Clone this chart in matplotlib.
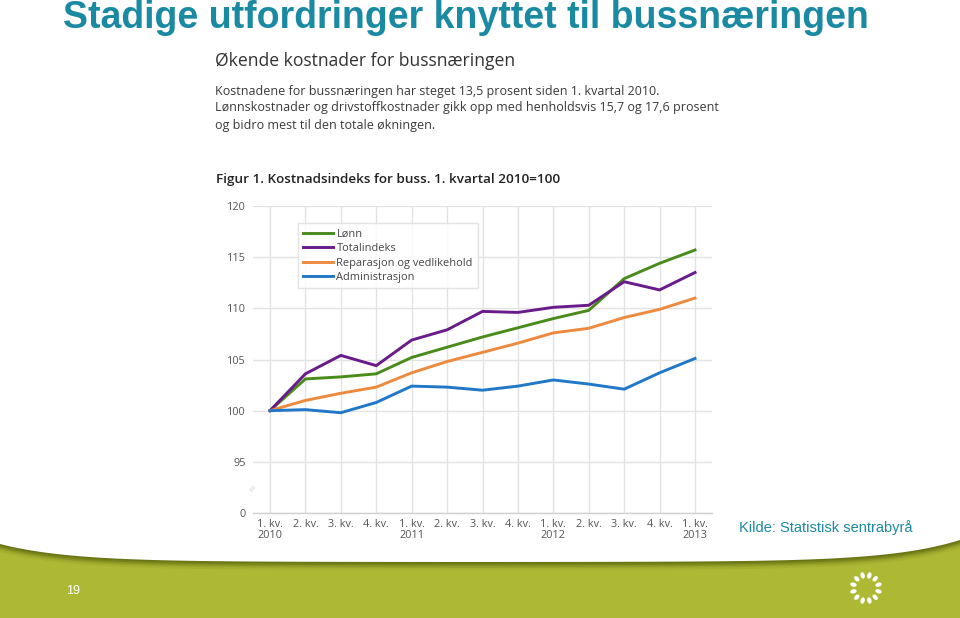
import matplotlib
matplotlib.use("Agg")
import matplotlib.pyplot as plt
from matplotlib.patches import Polygon, Ellipse, Rectangle
import numpy as np

# ---------------- data ----------------
quarters = ["1. kv.\n2010", "2. kv.", "3. kv.", "4. kv.",
            "1. kv.\n2011", "2. kv.", "3. kv.", "4. kv.",
            "1. kv.\n2012", "2. kv.", "3. kv.", "4. kv.",
            "1. kv.\n2013"]
lonn = [100, 103.1, 103.3, 103.6, 105.2, 106.2, 107.2, 108.1, 109.0, 109.8, 112.9, 114.4, 115.7]
total = [100, 103.6, 105.4, 104.4, 106.9, 107.9, 109.7, 109.6, 110.1, 110.3, 112.6, 111.8, 113.5]
reparasjon = [100, 101.0, 101.7, 102.3, 103.7, 104.8, 105.7, 106.6, 107.6, 108.05, 109.1, 109.9, 111.0]
administrasjon = [100, 100.1, 99.8, 100.8, 102.4, 102.3, 102.0, 102.4, 103.0, 102.6, 102.1, 103.7, 105.1]
series_names = ["Lønn", "Totalindeks", "Reparasjon og vedlikehold", "Administrasjon"]
series_colors = ["#4a8c1c", "#6a1b8a", "#ee8a3e", "#1f78c8"]
ytick_values = [90, 95, 100, 105, 110, 115, 120]
ytick_labels = ["0", "95", "100", "105", "110", "115", "120"]

W, H = 960, 618
fig = plt.figure(figsize=(W / 100, H / 100), dpi=100)
fig.patch.set_facecolor("white")

FONT = ["Open Sans", "DejaVu Sans"]
TITLE_FONT = ["Liberation Sans", "DejaVu Sans"]

# ---------------- decoration layer (pixel coords) ----------------
deco = fig.add_axes([0, 0, 1, 1])
deco.set_xlim(0, W)
deco.set_ylim(H, 0)
deco.axis("off")

green = "#adb834"
deco.add_patch(Rectangle((0, 535), W, H - 535, facecolor=green, edgecolor="none", zorder=1))
xs = np.linspace(0, W, 200)
def edge(x):
    left = 544 + 18 * (1 - np.exp(-x / 70))
    right = 540 + 22 * (1 - np.exp(-(W - x) / 70))
    return np.minimum(left, right)
for off, a in [(8, 0.10), (6, 0.18), (4.5, 0.28), (3, 0.4), (1.5, 0.55)]:
    poly = np.column_stack([np.r_[xs, xs[::-1]], np.r_[edge(xs) + off, np.full_like(xs, 530)]])
    deco.add_patch(Polygon(poly, closed=True, facecolor="#5f6a10", alpha=a, edgecolor="none", zorder=2))
poly = np.column_stack([np.r_[xs, xs[::-1]], np.r_[edge(xs), np.full_like(xs, 520)]])
deco.add_patch(Polygon(poly, closed=True, facecolor="white", edgecolor="none", zorder=3))

deco.text(73, 591, "19", color="white", fontsize=9, family=["Liberation Sans", "DejaVu Sans"],
          ha="center", va="center", zorder=4)
cx, cy, r = 866, 588, 13
for i in range(12):
    ang = 2 * np.pi * i / 12 + np.pi / 12
    deco.add_patch(Ellipse((cx + r * np.cos(ang), cy + r * np.sin(ang)), 4.2, 6.5,
                           angle=np.degrees(ang) + 90, facecolor="white", edgecolor="none", zorder=4))

# title
deco.text(63, 18, "Stadige utfordringer knyttet til bussnæringen", color="#1a8aa3",
          fontsize=27, fontweight="bold", family=TITLE_FONT, ha="left", va="center", zorder=4)

# text block above chart
deco.text(215, 61, "Økende kostnader for bussnæringen", color="#333333", fontsize=12.65,
          family=FONT, ha="left", va="center", zorder=4)
para = ["Kostnadene for bussnæringen har steget 13,5 prosent siden 1. kvartal 2010.",
        "Lønnskostnader og drivstoffkostnader gikk opp med henholdsvis 15,7 og 17,6 prosent",
        "og bidro mest til den totale økningen."]
for i, line in enumerate(para):
    deco.text(215, 91 + 17 * i, line, color="#3a3a3a", fontsize=9.0, family=FONT,
              ha="left", va="center", zorder=4)
deco.text(216, 179, "Figur 1. Kostnadsindeks for buss. 1. kvartal 2010=100", color="#222222",
          fontsize=9.7, fontweight="semibold", family=FONT, ha="left", va="center", zorder=4)
deco.text(739, 528, "Kilde: Statistisk sentrabyrå", color="#1a8a9c", fontsize=10.5,
          family=["Liberation Sans", "DejaVu Sans"], ha="left", va="center", zorder=4)

# ---------------- chart ----------------
ax = fig.add_axes([253 / W, 1 - 513 / H, (712 - 253) / W, (513 - 206) / H])
ax.set_facecolor("none")
x = np.arange(len(quarters))
for vals, name, col in zip([lonn, total, reparasjon, administrasjon], series_names, series_colors):
    ax.plot(x, vals, color=col, lw=2.1, label=name, solid_joinstyle="miter", zorder=3)

ax.set_xlim(-0.48, 12.48)
ax.set_ylim(90, 120)
ax.set_yticks(ytick_values)
ax.set_yticklabels(ytick_labels)
ax.set_xticks(x)
ax.set_xticklabels(quarters, linespacing=1.0)
ax.grid(True, color="#e3e3e3", lw=1.0, zorder=0)
for s in ["top", "right", "left"]:
    ax.spines[s].set_visible(False)
ax.spines["bottom"].set_color("#d0d0d0")
ax.spines["bottom"].set_linewidth(1.0)
ax.tick_params(axis="both", length=0, labelsize=7.8, labelcolor="#555555", pad=4)
ax.tick_params(axis="y", pad=5)
for lab in ax.get_xticklabels() + ax.get_yticklabels():
    lab.set_family(FONT)

ax.text(-0.5, 92.5, "≈", rotation=60, color="#d8d8d8", fontsize=7, ha="center", va="center",
        clip_on=False)

leg = ax.legend(loc="upper left", bbox_to_anchor=(0.098, 0.943), frameon=True, fancybox=False,
                prop={"family": FONT, "size": 7.9}, handlelength=2.7, handletextpad=0.3,
                labelspacing=0.3, borderpad=0.5, borderaxespad=0)
leg.get_frame().set_edgecolor("#dddddd")
leg.get_frame().set_linewidth(1.0)
for t in leg.get_texts():
    t.set_color("#444444")

fig.savefig("out.png", dpi=100, facecolor="white")
